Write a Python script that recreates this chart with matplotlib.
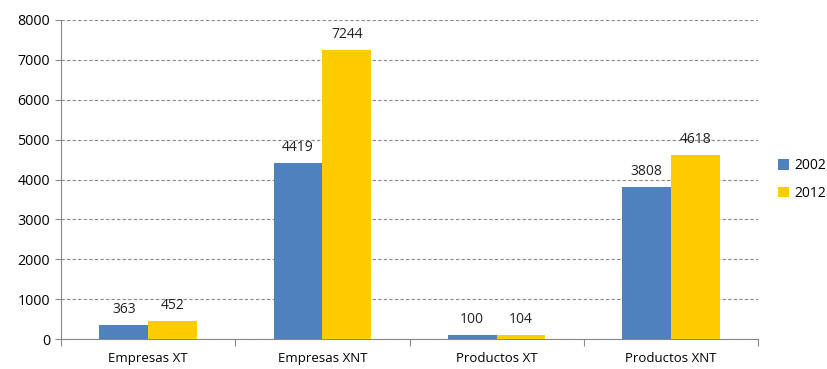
import numpy as np
import matplotlib.pyplot as plt

categories = ['Empresas XT', 'Empresas XNT', 'Productos XT', 'Productos XNT']
years = ['2002', '2012']
values_2002 = [363, 4419, 100, 3808]
values_2012 = [452, 7244, 104, 4618]
colors = ['#4F81BD', '#FFCC00']

plt.rcParams['font.family'] = ['Open Sans', 'DejaVu Sans']

fig = plt.figure(figsize=(8.28, 3.69), dpi=100)
ax = fig.add_axes([0.0737, 0.0813, 0.8418, 0.8645])

x = np.arange(len(categories))
w = 0.28
for i, (vals, lab) in enumerate(zip([values_2002, values_2012], years)):
    pos = x + (i - 0.5) * w
    ax.bar(pos, vals, w, color=colors[i], label=lab, zorder=3)
    for p, v in zip(pos, vals):
        ax.text(p, v + 200, str(v), ha='center', va='bottom', fontsize=10, color='#222222')

ax.set_xlim(-0.5, len(categories) - 0.5)
ax.set_ylim(0, 8000)
ax.set_yticks(np.arange(0, 8001, 1000))
ax.tick_params(axis='y', labelsize=10.3, length=4, color='#888888', pad=4)

# category labels between boundary ticks
ax.set_xticks(np.arange(-0.5, len(categories), 1.0))
ax.set_xticklabels([])
ax.tick_params(axis='x', length=5, color='#888888', direction='out')
for xi, c in zip(x, categories):
    ax.text(xi, -490, c, ha='center', va='center', fontsize=9.5, clip_on=False)

ax.grid(axis='y', linestyle=(0, (3, 2)), color='#888888', linewidth=0.8, zorder=0)
for s in ['top', 'right']:
    ax.spines[s].set_visible(False)
for s in ['left', 'bottom']:
    ax.spines[s].set_color('#888888')

ax.legend(loc='center left', bbox_to_anchor=(1.01, 0.5), frameon=False,
          fontsize=10, handlelength=0.8, handleheight=0.8, labelspacing=0.9,
          handletextpad=0.4)

fig.savefig('out.png', dpi=100)
